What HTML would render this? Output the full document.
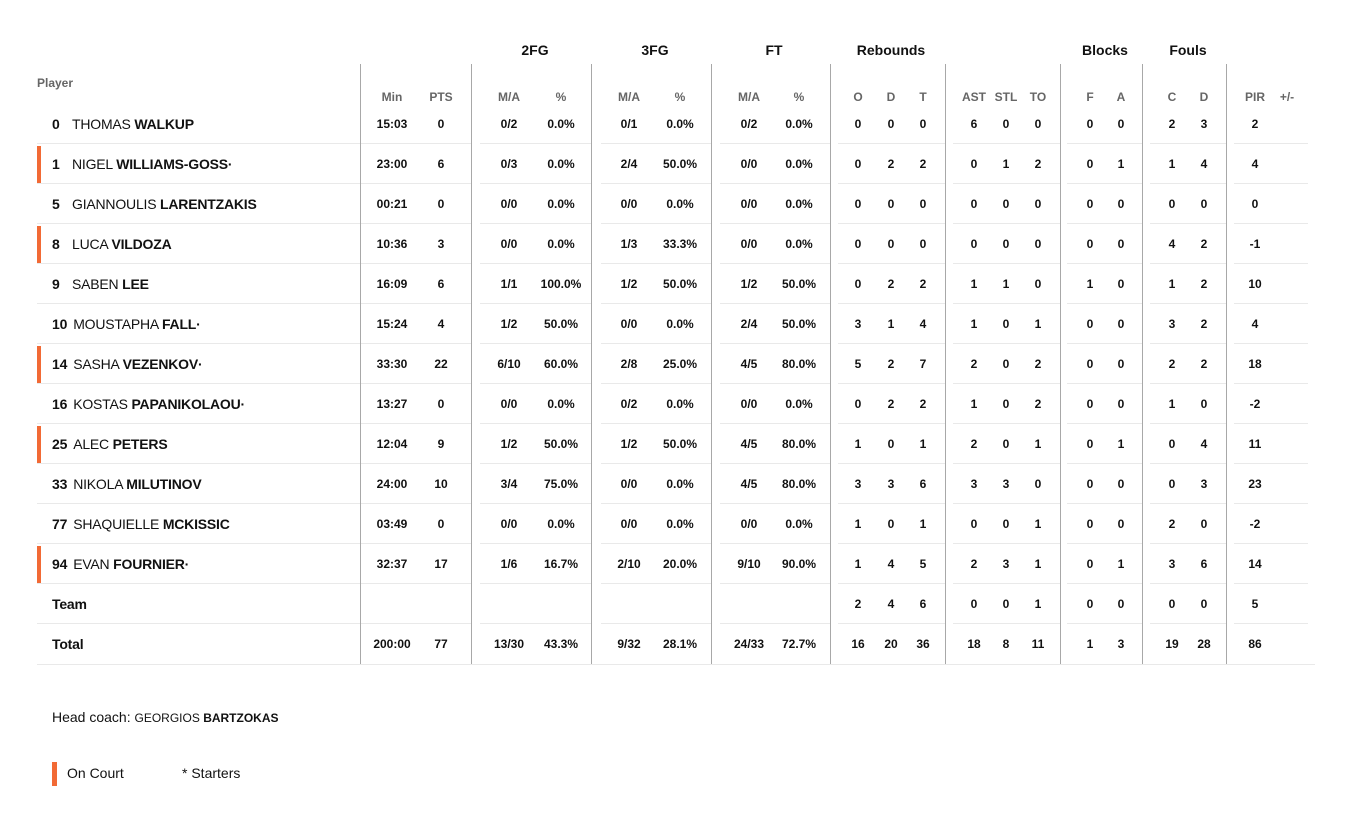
<!DOCTYPE html>
<html><head><meta charset="utf-8"><style>
body{margin:0;width:1359px;height:815px;background:#fff;font-family:"Liberation Sans",sans-serif;color:#111;position:relative;overflow:hidden}
.a{position:absolute}
.g{position:absolute;top:42px;font-size:14px;font-weight:bold;transform:translateX(-50%);white-space:nowrap}
.h{position:absolute;top:90px;font-size:12px;font-weight:bold;color:#666;transform:translateX(-50%);white-space:nowrap}
.v{position:absolute;top:64px;height:600px;width:1px;background:#a8a8a8}
.r{position:absolute;left:0;width:1359px;height:40px}
.r .n{position:absolute;left:52px;top:0;line-height:40px;font-size:14px;white-space:nowrap;letter-spacing:-0.2px}
.r .n i{font-style:normal;font-weight:bold;display:inline-block;min-width:14px;margin-right:6px}
.r .n s{text-decoration:none;font-weight:bold}
.r b{position:absolute;top:0;line-height:40px;font-size:12px;width:60px;margin-left:-30px;text-align:center;white-space:nowrap}
.r b:nth-of-type(1){left:392px}.r b:nth-of-type(2){left:441px}.r b:nth-of-type(3){left:509px}.r b:nth-of-type(4){left:561px}
.r b:nth-of-type(5){left:629px}.r b:nth-of-type(6){left:680px}.r b:nth-of-type(7){left:749px}.r b:nth-of-type(8){left:799px}
.r b:nth-of-type(9){left:858px}.r b:nth-of-type(10){left:891px}.r b:nth-of-type(11){left:923px}.r b:nth-of-type(12){left:974px}
.r b:nth-of-type(13){left:1006px}.r b:nth-of-type(14){left:1038px}.r b:nth-of-type(15){left:1090px}.r b:nth-of-type(16){left:1121px}
.r b:nth-of-type(17){left:1172px}.r b:nth-of-type(18){left:1204px}.r b:nth-of-type(19){left:1255px}
.r u{position:absolute;bottom:0;height:1px;background:#e9e9e9}
.r u:nth-of-type(1){left:37px;width:323px}.r u:nth-of-type(2){left:361px;width:110px}.r u:nth-of-type(3){left:480px;width:111px}
.r u:nth-of-type(4){left:601px;width:110px}.r u:nth-of-type(5){left:720px;width:110px}.r u:nth-of-type(6){left:838px;width:107px}
.r u:nth-of-type(7){left:953px;width:107px}.r u:nth-of-type(8){left:1067px;width:75px}.r u:nth-of-type(9){left:1150px;width:76px}
.r u:nth-of-type(10){left:1234px;width:74px}
.oc{position:absolute;left:37px;top:2px;width:4px;height:38px;background:#f26a35}
</style></head><body>
<div class="a" style="left:37px;top:76px;font-size:12px;font-weight:bold;color:#666">Player</div>
<div class="g" style="left:535px">2FG</div><div class="g" style="left:655px">3FG</div><div class="g" style="left:774px">FT</div>
<div class="g" style="left:891px">Rebounds</div><div class="g" style="left:1105px">Blocks</div><div class="g" style="left:1188px">Fouls</div>
<div class="h" style="left:392px">Min</div><div class="h" style="left:441px">PTS</div><div class="h" style="left:509px">M/A</div><div class="h" style="left:561px">%</div>
<div class="h" style="left:629px">M/A</div><div class="h" style="left:680px">%</div><div class="h" style="left:749px">M/A</div><div class="h" style="left:799px">%</div>
<div class="h" style="left:858px">O</div><div class="h" style="left:891px">D</div><div class="h" style="left:923px">T</div>
<div class="h" style="left:974px">AST</div><div class="h" style="left:1006px">STL</div><div class="h" style="left:1038px">TO</div>
<div class="h" style="left:1090px">F</div><div class="h" style="left:1121px">A</div><div class="h" style="left:1172px">C</div><div class="h" style="left:1204px">D</div>
<div class="h" style="left:1255px">PIR</div><div class="h" style="left:1287px">+/-</div>

<div class="r" style="top:104px"><div class="n"><i>0</i>THOMAS <s>WALKUP</s></div><b>15:03</b><b>0</b><b>0/2</b><b>0.0%</b><b>0/1</b><b>0.0%</b><b>0/2</b><b>0.0%</b><b>0</b><b>0</b><b>0</b><b>6</b><b>0</b><b>0</b><b>0</b><b>0</b><b>2</b><b>3</b><b>2</b><u></u><u></u><u></u><u></u><u></u><u></u><u></u><u></u><u></u><u></u></div>
<div class="r" style="top:144px"><div class="oc"></div><div class="n"><i>1</i>NIGEL <s>WILLIAMS-GOSS·</s></div><b>23:00</b><b>6</b><b>0/3</b><b>0.0%</b><b>2/4</b><b>50.0%</b><b>0/0</b><b>0.0%</b><b>0</b><b>2</b><b>2</b><b>0</b><b>1</b><b>2</b><b>0</b><b>1</b><b>1</b><b>4</b><b>4</b><u></u><u></u><u></u><u></u><u></u><u></u><u></u><u></u><u></u><u></u></div>
<div class="r" style="top:184px"><div class="n"><i>5</i>GIANNOULIS <s>LARENTZAKIS</s></div><b>00:21</b><b>0</b><b>0/0</b><b>0.0%</b><b>0/0</b><b>0.0%</b><b>0/0</b><b>0.0%</b><b>0</b><b>0</b><b>0</b><b>0</b><b>0</b><b>0</b><b>0</b><b>0</b><b>0</b><b>0</b><b>0</b><u></u><u></u><u></u><u></u><u></u><u></u><u></u><u></u><u></u><u></u></div>
<div class="r" style="top:224px"><div class="oc"></div><div class="n"><i>8</i>LUCA <s>VILDOZA</s></div><b>10:36</b><b>3</b><b>0/0</b><b>0.0%</b><b>1/3</b><b>33.3%</b><b>0/0</b><b>0.0%</b><b>0</b><b>0</b><b>0</b><b>0</b><b>0</b><b>0</b><b>0</b><b>0</b><b>4</b><b>2</b><b>-1</b><u></u><u></u><u></u><u></u><u></u><u></u><u></u><u></u><u></u><u></u></div>
<div class="r" style="top:264px"><div class="n"><i>9</i>SABEN <s>LEE</s></div><b>16:09</b><b>6</b><b>1/1</b><b>100.0%</b><b>1/2</b><b>50.0%</b><b>1/2</b><b>50.0%</b><b>0</b><b>2</b><b>2</b><b>1</b><b>1</b><b>0</b><b>1</b><b>0</b><b>1</b><b>2</b><b>10</b><u></u><u></u><u></u><u></u><u></u><u></u><u></u><u></u><u></u><u></u></div>
<div class="r" style="top:304px"><div class="n"><i>10</i>MOUSTAPHA <s>FALL·</s></div><b>15:24</b><b>4</b><b>1/2</b><b>50.0%</b><b>0/0</b><b>0.0%</b><b>2/4</b><b>50.0%</b><b>3</b><b>1</b><b>4</b><b>1</b><b>0</b><b>1</b><b>0</b><b>0</b><b>3</b><b>2</b><b>4</b><u></u><u></u><u></u><u></u><u></u><u></u><u></u><u></u><u></u><u></u></div>
<div class="r" style="top:344px"><div class="oc"></div><div class="n"><i>14</i>SASHA <s>VEZENKOV·</s></div><b>33:30</b><b>22</b><b>6/10</b><b>60.0%</b><b>2/8</b><b>25.0%</b><b>4/5</b><b>80.0%</b><b>5</b><b>2</b><b>7</b><b>2</b><b>0</b><b>2</b><b>0</b><b>0</b><b>2</b><b>2</b><b>18</b><u></u><u></u><u></u><u></u><u></u><u></u><u></u><u></u><u></u><u></u></div>
<div class="r" style="top:384px"><div class="n"><i>16</i>KOSTAS <s>PAPANIKOLAOU·</s></div><b>13:27</b><b>0</b><b>0/0</b><b>0.0%</b><b>0/2</b><b>0.0%</b><b>0/0</b><b>0.0%</b><b>0</b><b>2</b><b>2</b><b>1</b><b>0</b><b>2</b><b>0</b><b>0</b><b>1</b><b>0</b><b>-2</b><u></u><u></u><u></u><u></u><u></u><u></u><u></u><u></u><u></u><u></u></div>
<div class="r" style="top:424px"><div class="oc"></div><div class="n"><i>25</i>ALEC <s>PETERS</s></div><b>12:04</b><b>9</b><b>1/2</b><b>50.0%</b><b>1/2</b><b>50.0%</b><b>4/5</b><b>80.0%</b><b>1</b><b>0</b><b>1</b><b>2</b><b>0</b><b>1</b><b>0</b><b>1</b><b>0</b><b>4</b><b>11</b><u></u><u></u><u></u><u></u><u></u><u></u><u></u><u></u><u></u><u></u></div>
<div class="r" style="top:464px"><div class="n"><i>33</i>NIKOLA <s>MILUTINOV</s></div><b>24:00</b><b>10</b><b>3/4</b><b>75.0%</b><b>0/0</b><b>0.0%</b><b>4/5</b><b>80.0%</b><b>3</b><b>3</b><b>6</b><b>3</b><b>3</b><b>0</b><b>0</b><b>0</b><b>0</b><b>3</b><b>23</b><u></u><u></u><u></u><u></u><u></u><u></u><u></u><u></u><u></u><u></u></div>
<div class="r" style="top:504px"><div class="n"><i>77</i>SHAQUIELLE <s>MCKISSIC</s></div><b>03:49</b><b>0</b><b>0/0</b><b>0.0%</b><b>0/0</b><b>0.0%</b><b>0/0</b><b>0.0%</b><b>1</b><b>0</b><b>1</b><b>0</b><b>0</b><b>1</b><b>0</b><b>0</b><b>2</b><b>0</b><b>-2</b><u></u><u></u><u></u><u></u><u></u><u></u><u></u><u></u><u></u><u></u></div>
<div class="r" style="top:544px"><div class="oc"></div><div class="n"><i>94</i>EVAN <s>FOURNIER·</s></div><b>32:37</b><b>17</b><b>1/6</b><b>16.7%</b><b>2/10</b><b>20.0%</b><b>9/10</b><b>90.0%</b><b>1</b><b>4</b><b>5</b><b>2</b><b>3</b><b>1</b><b>0</b><b>1</b><b>3</b><b>6</b><b>14</b><u></u><u></u><u></u><u></u><u></u><u></u><u></u><u></u><u></u><u></u></div>
<div class="r" style="top:584px"><div class="n" style="font-weight:bold">Team</div><b></b><b></b><b></b><b></b><b></b><b></b><b></b><b></b><b>2</b><b>4</b><b>6</b><b>0</b><b>0</b><b>1</b><b>0</b><b>0</b><b>0</b><b>0</b><b>5</b><u></u><u></u><u></u><u></u><u></u><u></u><u></u><u></u><u></u><u></u></div>
<div class="r" style="top:624px"><div class="n" style="font-weight:bold">Total</div><b>200:00</b><b>77</b><b>13/30</b><b>43.3%</b><b>9/32</b><b>28.1%</b><b>24/33</b><b>72.7%</b><b>16</b><b>20</b><b>36</b><b>18</b><b>8</b><b>11</b><b>1</b><b>3</b><b>19</b><b>28</b><b>86</b></div>
<div class="a" style="left:37px;top:664px;width:1278px;height:1px;background:#e9e9e9"></div>

<div class="v" style="left:360px"></div><div class="v" style="left:471px"></div><div class="v" style="left:591px"></div>
<div class="v" style="left:711px"></div><div class="v" style="left:830px"></div><div class="v" style="left:945px"></div>
<div class="v" style="left:1060px"></div><div class="v" style="left:1142px"></div><div class="v" style="left:1226px"></div>

<div class="a" style="left:52px;top:709px;font-size:14px">Head coach: <span style="font-size:12px">GEORGIOS <b>BARTZOKAS</b></span></div>
<div class="a" style="left:52px;top:762px;width:5px;height:24px;background:#f26a35"></div>
<div class="a" style="left:67px;top:765px;font-size:14px">On Court</div>
<div class="a" style="left:182px;top:765px;font-size:14px">* Starters</div>
</body></html>
